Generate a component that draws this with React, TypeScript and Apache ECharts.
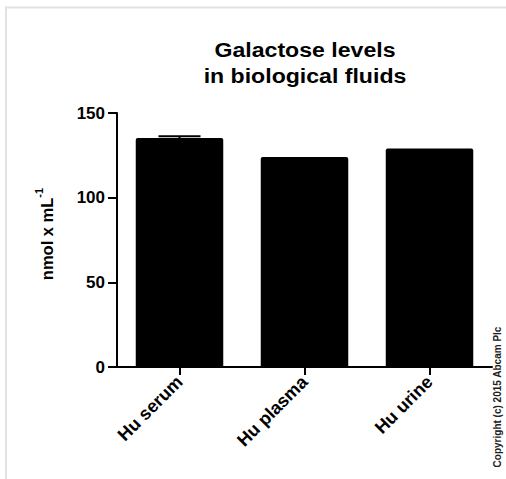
import React, { useEffect, useRef } from "react";
import * as echarts from "echarts";

const categories = ["Hu serum", "Hu plasma", "Hu urine"];
const values = [135.2, 124.0, 129.1];
const errors = [1.0, 0, 0];
const yTicks = { min: 0, max: 150, interval: 50 };
const titleText = "Galactose levels\nin biological fluids";
const copyright = "Copyright (c) 2015 Abcam Plc";

const FONT = "'Liberation Sans', Arial, Helvetica, sans-serif";

export default function App() {
  const ref = useRef<HTMLDivElement>(null);
  useEffect(() => {
    if (!ref.current) return;
    const chart = echarts.init(ref.current, undefined, { renderer: "svg" });
    const errData = values.map((v, i) => [i, v, errors[i]]);
    chart.setOption({
      animation: false,
      backgroundColor: "#ffffff",
      grid: { left: 117, right: 14, top: 113, bottom: 112 },
      xAxis: {
        type: "category",
        data: categories,
        axisLine: { show: true, lineStyle: { color: "#000", width: 2 } },
        axisTick: { show: true, inside: false, alignWithLabel: true, length: 8, lineStyle: { color: "#000", width: 2 } },
        axisLabel: {
          rotate: 45,
          margin: 12,
          color: "#000",
          fontFamily: FONT,
          fontWeight: "bold",
          fontSize: 18,
        },
      },
      yAxis: {
        type: "value",
        min: yTicks.min,
        max: yTicks.max,
        interval: yTicks.interval,
        name: "{a|nmol x mL}{b|-1}",
        nameLocation: "middle",
        nameGap: 62,
        nameTextStyle: {
          color: "#000",
          fontFamily: FONT,
          fontWeight: "bold",
          padding: [0, 0, 0, 12],
          rich: {
            a: { fontSize: 16.5, fontWeight: "bold", fontFamily: FONT, color: "#000", lineHeight: 22, verticalAlign: "bottom" },
            b: { fontSize: 11, fontWeight: "bold", fontFamily: FONT, color: "#000", verticalAlign: "top" },
          },
        },
        splitLine: { show: false },
        axisLine: { show: true, lineStyle: { color: "#000", width: 2 } },
        axisTick: { show: true, inside: false, length: 9, lineStyle: { color: "#000", width: 2 } },
        axisLabel: {
          margin: 12,
          color: "#000",
          fontFamily: FONT,
          fontWeight: "bold",
          fontSize: 17,
        },
      },
      series: [
        {
          type: "bar",
          data: values,
          barWidth: "70%",
          itemStyle: { color: "#000", borderRadius: [2, 2, 0, 0] },
        },
        {
          type: "custom",
          data: errData,
          z: 10,
          renderItem: (params: any, api: any) => {
            const i = api.value(0);
            const v = api.value(1);
            const e = api.value(2);
            if (!e) return { type: "group", children: [] };
            const p0 = api.coord([i, v]);
            const p1 = api.coord([i, v + e]);
            const bw = api.size([1, 0])[0] * 0.7;
            const cap = bw * 0.24;
            return {
              type: "group",
              children: [
                { type: "line", shape: { x1: p0[0], y1: p0[1], x2: p1[0], y2: p1[1] }, style: { stroke: "#000", lineWidth: 2 } },
                { type: "line", shape: { x1: p1[0] - cap, y1: p1[1], x2: p1[0] + cap, y2: p1[1] }, style: { stroke: "#000", lineWidth: 2 } },
              ],
            };
          },
        },
      ],
      graphic: [
        { type: "line", shape: { x1: 5, y1: 7.5, x2: 506, y2: 7.5 }, style: { stroke: "#e2e2e2", lineWidth: 2 } },
        { type: "line", shape: { x1: 6, y1: 6.5, x2: 6, y2: 479 }, style: { stroke: "#e2e2e2", lineWidth: 2 } },
        {
          type: "text",
          x: 305,
          y: 37,
          scaleX: 1.1,
          style: {
            text: titleText,
            fill: "#000",
            font: `bold 21px ${FONT}`,
            textAlign: "center",
            textVerticalAlign: "top",
            lineHeight: 26,
          },
        },
        {
          type: "text",
          x: 497,
          y: 397,
          rotation: Math.PI / 2,
          style: {
            text: copyright,
            fill: "#222",
            font: `bold 10px ${FONT}`,
            textAlign: "center",
            textVerticalAlign: "middle",
          },
        },
      ],
    });
    return () => chart.dispose();
  }, []);
  return <div ref={ref} style={{ position: "absolute", left: 0, top: 0, width: 506, height: 479 }} />;
}
